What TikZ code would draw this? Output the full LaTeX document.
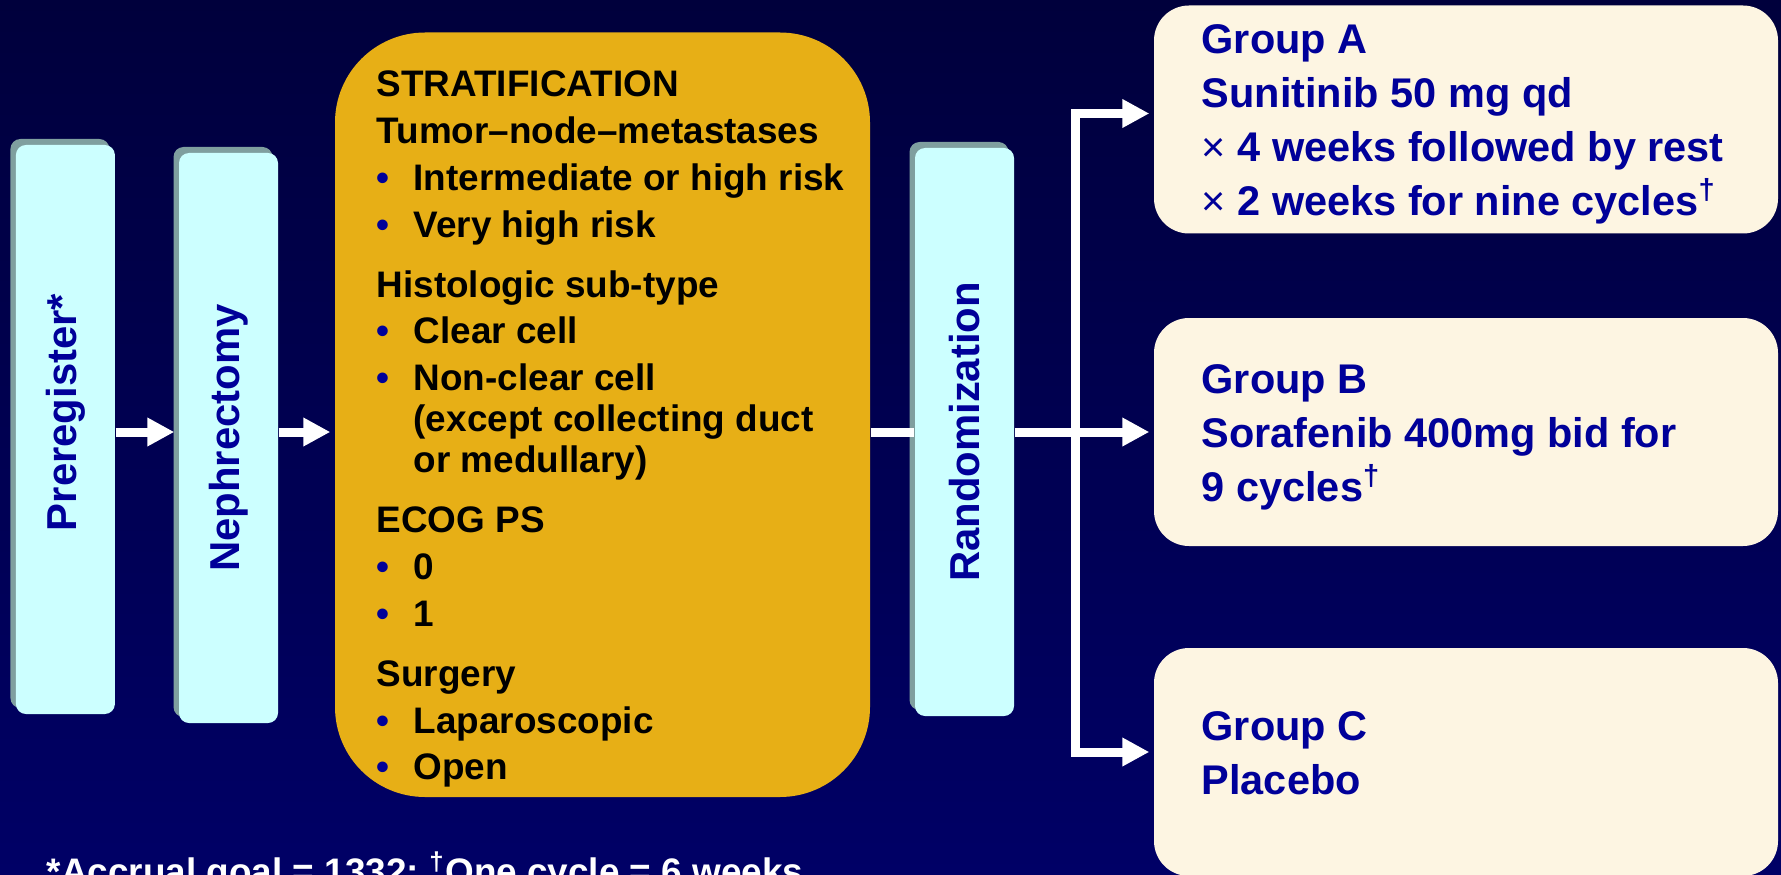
\documentclass[tikz,border=0pt]{standalone}
\usepackage{fontspec}
\setmainfont{Liberation Sans}
\usetikzlibrary{arrows.meta,shadows}

\definecolor{navytop}{RGB}{0,0,60}
\definecolor{navybot}{RGB}{0,0,102}
\definecolor{boxcyan}{RGB}{204,255,255}
\definecolor{boxshade}{RGB}{127,159,159}
\definecolor{txtblue}{RGB}{0,0,153}
\definecolor{stratgold}{RGB}{231,175,22}
\definecolor{grpcream}{RGB}{253,245,226}

\newcommand{\bul}{\makebox[0.37cm][l]{\textcolor{txtblue}{\textbullet}}}
\newcommand{\indt}{\hspace*{0.37cm}}

\tikzset{
  phase/.style={rectangle, rounded corners=0.1cm, fill=boxcyan, inner sep=0pt,
    minimum width=0.99cm, minimum height=5.69cm,
    drop shadow={shadow xshift=-0.055cm, shadow yshift=0.06cm, fill=boxshade, opacity=1}},
  phasetext/.style={rotate=90, text=txtblue, inner sep=0pt,
    font=\fontsize{11.9}{14}\selectfont\bfseries},
  arm/.style={rectangle, rounded corners=0.35cm, fill=grpcream, inner sep=0pt,
    minimum width=6.24cm, minimum height=2.28cm},
  % base of a multi-line node is its last line
  armtext/.style={anchor=base west, align=left, inner sep=0pt, text=txtblue,
    font=\fontsize{11.8}{15.3}\selectfont\bfseries},
  flow/.style={white, line width=0.09cm},
  flowarrow/.style={flow, -{Triangle[length=0.27cm,width=0.27cm]}, shorten >=0.04cm}
}

\begin{document}
\begin{tikzpicture}
  \useasboundingbox (0,0) rectangle (17.81,8.74);
  \clip (0,0) rectangle (17.81,8.74);
  \shade[top color=navytop, bottom color=navybot] (0,0) rectangle (17.81,8.74);

  % steps before randomization
  \node[phase] (prereg) at (0.654,4.445) {};
  \node[phasetext] (pretext) at ([yshift=0.17cm]prereg.center) {Preregister*};
  \node[phase, minimum height=5.70cm] (neph) at (2.285,4.36) {};
  \node[phasetext] (nephtext) at (neph.center) {Nephrectomy};
  \node[phase, minimum height=5.68cm] (rand) at (9.645,4.42) {};
  \node[phasetext] (randtext) at (rand.center) {Randomization};

  % stratification
  \node[rectangle, rounded corners=0.9cm, fill=stratgold, minimum width=5.35cm,
    minimum height=7.645cm] (strat) at (6.025,4.5925) {};
  \node[anchor=north west, align=left, inner sep=0pt,
    font=\fontsize{10.5}{13.34}\selectfont\bfseries] (strattext) at (3.76,8.04) {
    STRATIFICATION\\
    Tumor–node–metastases\\
    \bul Intermediate or high risk\\
    \bul Very high risk\\[3.7pt]
    Histologic sub-type\\
    \bul Clear cell\\
    \bul Non-clear cell\\[-1.7pt]
    \indt(except collecting duct\\[-1.7pt]
    \indt or medullary)\\[3.7pt]
    ECOG PS\\
    \bul 0\\
    \bul 1\\[3.7pt]
    Surgery\\
    \bul Laparoscopic\\
    \bul Open};

  % treatment arms
  \node[arm] (grpA) at (14.66,7.545) {};
  \node[armtext] (grpAtext) at (12.01,6.59) {Group A\\ Sunitinib 50 mg qd\\
    \textmd{×} 4 weeks followed by rest\\
    \textmd{×} 2 weeks for nine cycles\textsuperscript{†}};
  \node[arm] (grpB) at (14.66,4.42) {};
  \node[armtext] (grpBtext) at (12.01,3.73) {Group B\\ Sorafenib 400mg bid for\\
    9 cycles\textsuperscript{†}};
  \node[arm] (grpC) at (14.66,1.12) {};
  \node[armtext] (grpCtext) at (12.01,0.80) {Group C\\ Placebo};

  \coordinate (mid) at (0,4.42);
  \coordinate (split) at (10.755,4.42);
  \draw[flowarrow] (prereg.east |- mid) -- (neph.west |- mid);
  \draw[flowarrow] (neph.east |- mid) -- (strat.west |- mid);
  \draw[flow] (strat.east |- mid) -- (rand.west |- mid);
  \draw[flowarrow] (rand.east |- mid) -- (grpB.west |- mid);
  \draw[flowarrow] (split) |- ([yshift=0.06cm]grpA.west);
  \draw[flowarrow] (split) |- ([yshift=0.1cm]grpC.west);

  \node[anchor=base west, inner sep=0pt, text=white,
    font=\fontsize{10.5}{13}\selectfont\bfseries] (note) at (0.46,-0.10)
    {*Accrual goal = 1332; \textsuperscript{†}One cycle = 6 weeks};
\end{tikzpicture}
\end{document}
